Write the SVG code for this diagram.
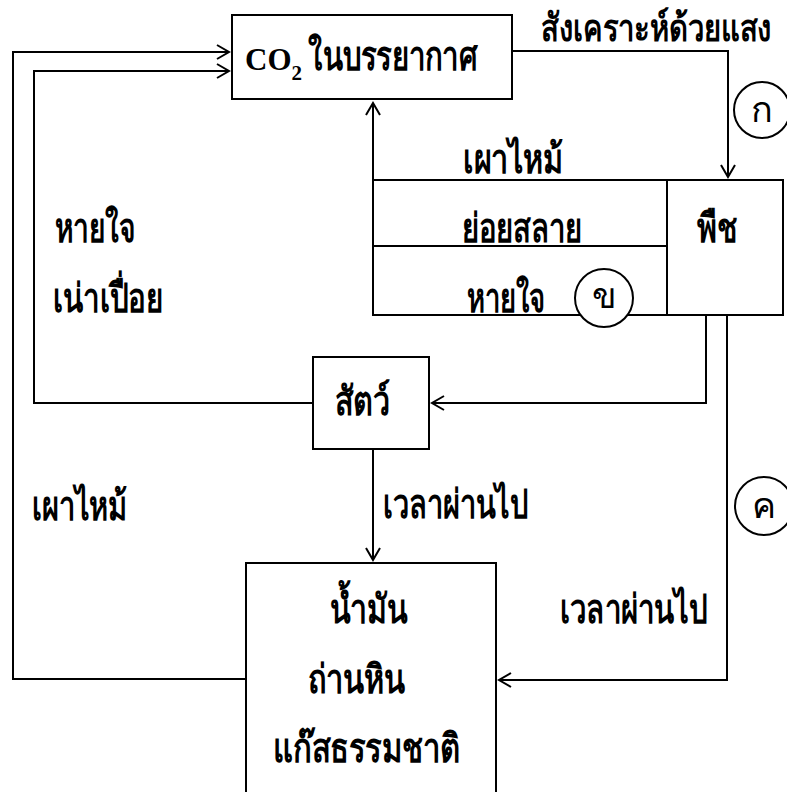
<svg xmlns="http://www.w3.org/2000/svg" width="787" height="792" viewBox="0 0 787 792">
<style>
.box{fill:#fff;stroke:#000;stroke-width:2}
.ln{fill:none;stroke:#000;stroke-width:2}
.cir{fill:#fff;stroke:#000;stroke-width:2}
.t{font-family:"Liberation Serif",serif;font-weight:bold;font-size:40px;fill:#000}
.lat{font-family:"Liberation Serif",serif;font-weight:bold;font-size:31px;fill:#000}
.c{font-family:"Liberation Sans",sans-serif;font-size:36px;fill:#000;text-anchor:middle}
</style>
<defs>
<marker id="ah" markerUnits="userSpaceOnUse" markerWidth="16" markerHeight="18" refX="13" refY="8" orient="auto">
<path d="M1,1 L13,8 L1,15" fill="none" stroke="#000" stroke-width="2"/>
</marker>
</defs>
<g id="connectors">
<path class="ln" d="M246,679 H13 V52 H229" marker-end="url(#ah)"/>
<path class="ln" d="M313,403 H34 V71 H229" marker-end="url(#ah)"/>
<path class="ln" d="M512,51 H728 V177" marker-end="url(#ah)"/>
<path class="ln" d="M373,180 V103" marker-end="url(#ah)"/>
<path class="ln" d="M706,315 V403 H432" marker-end="url(#ah)"/>
<path class="ln" d="M373,449 V560" marker-end="url(#ah)"/>
<path class="ln" d="M727,315 V680 H499" marker-end="url(#ah)"/>
</g>
<g id="co2">
<rect class="box" x="232" y="15" width="280" height="84"/>
<text class="lat" x="245" y="70">CO<tspan font-size="21" dy="10">2</tspan></text>
<text class="t" x="308" y="70" textLength="169" lengthAdjust="spacingAndGlyphs">ในบรรยากาศ</text>
</g>
<g id="decomp">
<rect class="box" x="373" y="180" width="294" height="135"/>
<line class="ln" x1="373" y1="246" x2="667" y2="246"/>
<text class="t" x="463" y="173" textLength="100" lengthAdjust="spacingAndGlyphs">เผาไหม้</text>
<text class="t" x="462" y="242" textLength="120" lengthAdjust="spacingAndGlyphs">ย่อยสลาย</text>
<text class="t" x="467" y="312" textLength="78" lengthAdjust="spacingAndGlyphs">หายใจ</text>
</g>
<g id="plant">
<rect class="box" x="667" y="180" width="116" height="135"/>
<text class="t" x="697" y="242" textLength="40" lengthAdjust="spacingAndGlyphs">พืช</text>
</g>
<g id="animal">
<rect class="box" x="313" y="357" width="116" height="92"/>
<text class="t" x="335" y="415" textLength="55" lengthAdjust="spacingAndGlyphs">สัตว์</text>
</g>
<g id="fuel">
<rect class="box" x="246" y="563" width="250" height="240"/>
<text class="t" x="330" y="623" textLength="77" lengthAdjust="spacingAndGlyphs">น้ำมัน</text>
<text class="t" x="308" y="693" textLength="97" lengthAdjust="spacingAndGlyphs">ถ่านหิน</text>
<text class="t" x="273" y="762" textLength="187" lengthAdjust="spacingAndGlyphs">แก๊สธรรมชาติ</text>
</g>
<g id="labels">
<text class="t" x="772" y="41" text-anchor="end" style="font-size:38px" textLength="231" lengthAdjust="spacingAndGlyphs">สังเคราะห์ด้วยแสง</text>
<text class="t" x="55" y="242" textLength="80" lengthAdjust="spacingAndGlyphs">หายใจ</text>
<text class="t" x="53" y="312" textLength="110" lengthAdjust="spacingAndGlyphs">เน่าเปื่อย</text>
<text class="t" x="32" y="520" textLength="95" lengthAdjust="spacingAndGlyphs">เผาไหม้</text>
<text class="t" x="383" y="518" textLength="145" lengthAdjust="spacingAndGlyphs">เวลาผ่านไป</text>
<text class="t" x="560" y="623" textLength="147" lengthAdjust="spacingAndGlyphs">เวลาผ่านไป</text>
</g>
<g id="tags">
<circle class="cir" cx="762" cy="110" r="28"/>
<text class="c" x="762" y="122">ก</text>
<circle class="cir" cx="604" cy="298" r="29"/>
<text class="c" x="604" y="308">ข</text>
<circle class="cir" cx="764" cy="506" r="29"/>
<text class="c" x="764" y="518">ค</text>
</g>
</svg>
